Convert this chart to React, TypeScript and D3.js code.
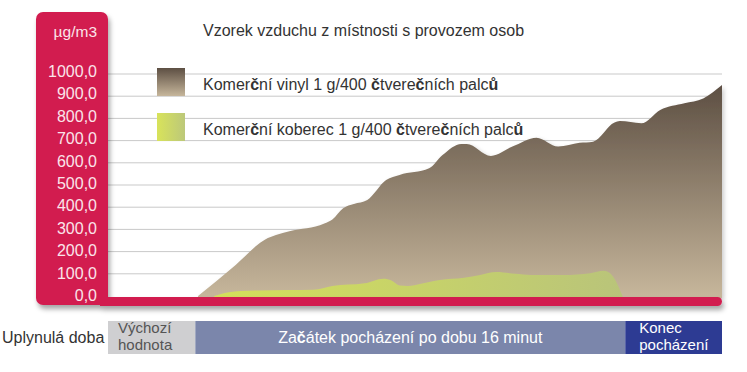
import React from "react";
import * as d3 from "d3";

// ---- data ----
const yTicks = [0, 100, 200, 300, 400, 500, 600, 700, 800, 900, 1000];
const unitLabel = "µg/m3";
const title = "Vzorek vzduchu z místnosti s provozem osob";
const seriesNames = [
  "Komerční vinyl 1 g/400 čtverečních palců",
  "Komerční koberec 1 g/400 čtverečních palců",
];
// time in minutes (0 = start of walking)
const vinylT = [0.1, 1.5, 2.6, 3.0, 3.5, 4.8, 5.1, 5.5, 5.9, 6.4, 7.1, 7.6, 8.7, 9.2, 9.9, 10.1, 11.0, 11.8, 12.7, 13.5, 14.3, 14.8, 15.6, 15.8, 16.6, 17.3, 18.2, 18.9, 19.6];
const vinylV = [0, 140, 255, 275, 292, 327, 345, 395, 414, 432, 522, 545, 575, 635, 685, 685, 631, 673, 713, 673, 690, 695, 781, 788, 778, 838, 868, 890, 950];
const carpetT = [0.7, 1.1, 1.7, 2.4, 3.5, 4.4, 5.1, 6.3, 7.0, 7.3, 7.6, 7.9, 8.4, 9.1, 10.0, 10.6, 11.2, 11.9, 12.5, 13.7, 14.7, 15.2, 15.5, 15.9];
const carpetV = [0, 14, 23, 25, 27, 28, 45, 57, 78, 70, 47, 45, 55, 72, 82, 95, 108, 100, 95, 95, 103, 114, 95, 0];
const timeLabel = "Uplynulá doba";
const phaseBounds = [-3.25, 0, 16, 19.6];
const phaseLabels = [["Výchozí", "hodnota"], ["Začátek pocházení po dobu 16 minut"], ["Konec", "pocházení"]];

const FONT = "'Liberation Sans', Arial, Helvetica, sans-serif";

function czText(s: string) {
  // render č / ů heavier as in the original artwork
  const parts = s.split(/([čů])/);
  return parts.map((p, i) =>
    p === "č" || p === "ů" ? (
      <tspan key={i} fontWeight="bold">{p}</tspan>
    ) : (
      <tspan key={i}>{p}</tspan>
    )
  );
}

export default function App() {
  const W = 747, H = 372;
  const x = d3.scaleLinear().domain([phaseBounds[0], phaseBounds[3]]).range([108, 722]);
  const y = d3.scaleLinear().domain([0, 1000]).range([296, 74]);
  const yLab = d3.scaleLinear().domain([0, 1000]).range([301, 77]);

  const vinyl = vinylT.map((t, i) => ({ t, v: vinylV[i] }));
  const carpet = carpetT.map((t, i) => ({ t, v: carpetV[i] }));

  const areaGen = d3
    .area<{ t: number; v: number }>()
    .x((d) => x(d.t))
    .y0(y(0) + 2)
    .y1((d) => y(d.v))
    .curve(d3.curveMonotoneX);

  const vinylPath = areaGen(vinyl) || "";
  const carpetPath = areaGen(carpet) || "";

  const red = "#d21f50";
  const phaseFill = ["#cfcfd1", "#7b86ab", "#2d3b93"];
  const phaseText = ["#555555", "#ffffff", "#ffffff"];

  return (
    <svg width={W} height={H} style={{ position: "absolute", left: 0, top: 0, background: "#fff" }}>
      <defs>
        <linearGradient id="brownG" gradientUnits="userSpaceOnUse" x1="0" y1={y(950)} x2="0" y2={y(0)}>
          <stop offset="0" stopColor="#5d4f43" />
          <stop offset="1" stopColor="#c6b69b" />
        </linearGradient>
        <linearGradient id="brownSw" x1="0" y1="0" x2="0" y2="1">
          <stop offset="0" stopColor="#5d4f43" />
          <stop offset="1" stopColor="#c6b69b" />
        </linearGradient>
        <linearGradient id="greenG" gradientUnits="userSpaceOnUse" x1={x(0.7)} y1="0" x2={x(15.9)} y2="0">
          <stop offset="0" stopColor="#d4e05a" />
          <stop offset="1" stopColor="#b9c47a" />
        </linearGradient>
        <linearGradient id="greenSw" x1="0" y1="0" x2="1" y2="0">
          <stop offset="0" stopColor="#d8e35a" />
          <stop offset="1" stopColor="#bcc87a" />
        </linearGradient>
        <filter id="shadow" x="-10%" y="-10%" width="130%" height="140%">
          <feDropShadow dx="2" dy="4" stdDeviation="2.5" floodColor="#000" floodOpacity="0.35" />
        </filter>
        <filter id="shadowS" x="-10%" y="-10%" width="130%" height="130%">
          <feDropShadow dx="2" dy="2" stdDeviation="2" floodColor="#000" floodOpacity="0.2" />
        </filter>
      </defs>

      {/* grid lines */}
      {yTicks.filter((t) => t > 0).map((t) => (
        <line key={t} x1={108} x2={722} y1={y(t)} y2={y(t)} stroke="#c9c9c9" strokeWidth={1} />
      ))}

      {/* areas */}
      <path d={vinylPath} fill="url(#brownG)" filter="url(#shadowS)" />
      <path d={carpetPath} fill="url(#greenG)" />

      {/* red axis panel + bottom bar */}
      <g filter="url(#shadow)">
        <rect x={36} y={12} width={72} height={293} rx={7} fill={red} />
        <rect x={100} y={y(0) + 1} width={622} height={9} rx={4.5} fill={red} />
        <rect x={100} y={y(0) + 1} width={20} height={9} fill={red} />
      </g>

      {/* y labels */}
      <text x={97} y={37} textAnchor="end" fontFamily={FONT} fontSize={15.5} fill="#fbe4ea">{unitLabel}</text>
      {yTicks.map((t) => (
        <text key={t} x={97} y={yLab(t)} textAnchor="end" fontFamily={FONT} fontSize={16} fill="#fbe4ea">
          {d3.format(".1f")(t).replace(".", ",")}
        </text>
      ))}

      {/* title */}
      <text x={203} y={36} fontFamily={FONT} fontSize={16} fill="#333">{title}</text>

      {/* legend */}
      <rect x={157} y={68} width={28} height={28} fill="url(#brownSw)" />
      <text x={203} y={90} fontFamily={FONT} fontSize={16} fill="#333">{czText(seriesNames[0])}</text>
      <rect x={157} y={113} width={28} height={28} fill="url(#greenSw)" />
      <text x={203} y={135} fontFamily={FONT} fontSize={16} fill="#333">{czText(seriesNames[1])}</text>

      {/* time axis */}
      <text x={2} y={343} fontFamily={FONT} fontSize={16} fill="#333">{timeLabel}</text>
      {phaseLabels.map((lab, i) => {
        const x0 = x(phaseBounds[i]);
        const x1 = x(phaseBounds[i + 1]);
        const lx = x0 + (i === 0 ? 10 : 14);
        return (
          <g key={i}>
            <rect x={x0} y={321} width={x1 - x0} height={33} fill={phaseFill[i]} />
            {lab.length === 1 ? (
              <text x={(x0 + x1) / 2} y={343} textAnchor="middle" fontFamily={FONT} fontSize={16} fill={phaseText[i]}>
                {czText(lab[0])}
              </text>
            ) : (
              <g>
                <text x={lx} y={333} fontFamily={FONT} fontSize={15} fill={phaseText[i]}>{lab[0]}</text>
                <text x={lx} y={350} fontFamily={FONT} fontSize={15} fill={phaseText[i]}>{lab[1]}</text>
              </g>
            )}
          </g>
        );
      })}
    </svg>
  );
}
